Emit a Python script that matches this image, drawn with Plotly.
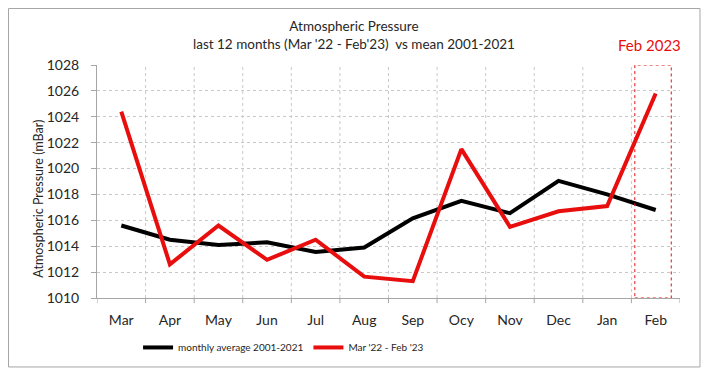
import plotly.graph_objects as go

months = ["Mar", "Apr", "May", "Jun", "Jul", "Aug", "Sep", "Ocy", "Nov", "Dec", "Jan", "Feb"]
mean_2001_2021 = [1015.6, 1014.5, 1014.1, 1014.3, 1013.55, 1013.9, 1016.15, 1017.5, 1016.55, 1019.05, 1018.0, 1016.8]
last_12 = [1024.4, 1012.6, 1015.6, 1012.95, 1014.5, 1011.65, 1011.3, 1021.5, 1015.5, 1016.7, 1017.1, 1025.8]
y_ticks = [1010, 1012, 1014, 1016, 1018, 1020, 1022, 1024, 1026, 1028]

FONT = "Lato"
x_idx = list(range(len(months)))

fig = go.Figure()
fig.add_trace(go.Scatter(x=x_idx, y=mean_2001_2021, mode="lines", name="monthly average 2001-2021",
                         line=dict(color="black", width=4)))
fig.add_trace(go.Scatter(x=x_idx, y=last_12, mode="lines", name="Mar '22 - Feb '23",
                         line=dict(color="#e80e0e", width=4)))

# outer chart border
fig.add_shape(type="rect", xref="paper", yref="paper", x0=-0.1518, x1=1.0343, y0=-0.296, y1=1.2425,
              line=dict(color="#a6a6a6", width=1), layer="below")
# highlight box around Feb
fig.add_shape(type="rect", xref="x", yref="y", x0=10.57, x1=11.32, y0=1010, y1=1028,
              line=dict(color="#e80e0e", width=1, dash="dot"))

fig.add_annotation(text="Atmospheric Pressure<br>last 12 months (Mar '22 - Feb'23)  vs mean 2001-2021",
                   xref="paper", yref="paper", x=0.44, y=1.127, showarrow=False,
                   font=dict(family=FONT, size=13.5, color="#262626"), align="center",
                   xanchor="center", yanchor="middle")
fig.add_annotation(text="Feb 2023", xref="paper", yref="paper", x=0.948, y=1.086, showarrow=False,
                   font=dict(family=FONT, size=15, color="#e80e0e"), xanchor="center", yanchor="middle")
fig.add_annotation(text="Atmospheric Pressure (mBar)", xref="paper", yref="paper", x=-0.1, y=0.425,
                   textangle=-90, showarrow=False, font=dict(family=FONT, size=12.5, color="#262626"),
                   xanchor="center", yanchor="middle")

fig.update_xaxes(type="linear", range=[-0.5, 11.5], tickmode="array", tickvals=x_idx, ticktext=months,
                 showgrid=False, zeroline=False, showline=True, linecolor="#a6a6a6", ticks="",
                 ticklabelstandoff=9, automargin=False,
                 tickfont=dict(family=FONT, size=14, color="#262626"), fixedrange=True)
# vertical gridlines / ticks at category boundaries
for b in range(1, 12):
    fig.add_shape(type="line", xref="x", yref="paper", x0=b - 0.5, x1=b - 0.5, y0=0, y1=1,
                  line=dict(color="#c8c8c8", width=1, dash="dot"), layer="below")
for b in range(0, 13):
    fig.add_shape(type="line", xref="x", yref="paper", x0=b - 0.5, x1=b - 0.5, y0=0, y1=-0.022,
                  line=dict(color="#a6a6a6", width=1))

fig.update_yaxes(range=[1010, 1028], tickmode="array", tickvals=y_ticks, showgrid=True,
                 gridcolor="#c8c8c8", griddash="dot", gridwidth=1, zeroline=False, showline=True,
                 linecolor="#a6a6a6", ticks="outside", ticklen=5, tickcolor="#a6a6a6",
                 ticklabelstandoff=9, automargin=False,
                 tickfont=dict(family=FONT, size=14, color="#262626"), fixedrange=True)

fig.update_layout(width=710, height=372, margin=dict(l=89, r=38, t=57, b=82, autoexpand=False),
                  paper_bgcolor="white", plot_bgcolor="white", showlegend=True,
                  legend=dict(orientation="h", x=0.32, y=-0.15, xanchor="center", yanchor="top",
                              font=dict(family=FONT, size=10, color="#262626"), itemwidth=30,
                              tracegroupgap=0, bgcolor="rgba(0,0,0,0)"),
                  font=dict(family=FONT))

fig.write_html("out.html")
